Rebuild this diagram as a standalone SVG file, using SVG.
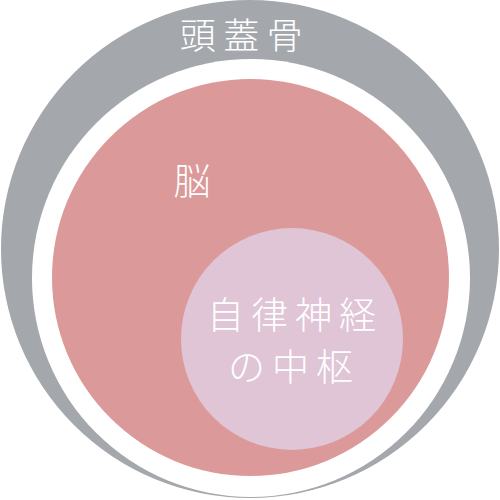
<svg xmlns="http://www.w3.org/2000/svg" width="500" height="500" viewBox="0 0 500 500">
  <style>
    .lbl { fill: #ffffff; font-family: "Noto Sans CJK JP", "Noto Sans CJK SC", sans-serif; font-weight: 300; text-anchor: middle; }
  </style>
  <rect width="500" height="500" fill="#ffffff"/>
  <g id="skull">
    <circle cx="250" cy="249" r="249" fill="#a4a8ac"/>
    <circle cx="251" cy="278" r="219" fill="#ffffff"/>
    <text class="lbl" x="245" y="49" font-size="36" letter-spacing="7.5">頭蓋骨</text>
  </g>
  <g id="brain">
    <circle cx="250.5" cy="277.5" r="198.5" fill="#db999a"/>
    <text class="lbl" x="192" y="195" font-size="37">脳</text>
  </g>
  <g id="autonomic-center">
    <circle cx="292" cy="339" r="111" fill="#dfc5d6"/>
    <text class="lbl" x="295" y="329" font-size="37" letter-spacing="7">自律神経</text>
    <text class="lbl" x="294" y="381" font-size="37" letter-spacing="7">の中枢</text>
  </g>
  <g id="connectors"/>
</svg>
